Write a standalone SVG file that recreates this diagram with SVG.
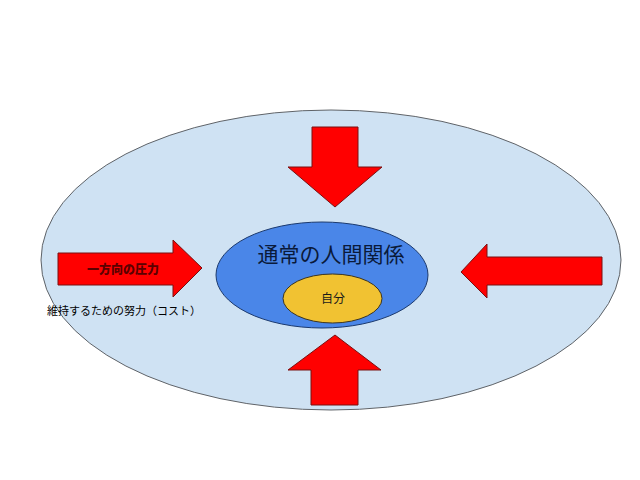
<svg xmlns="http://www.w3.org/2000/svg" width="640" height="480" viewBox="0 0 640 480">
<style>
.arrow{fill:#ff0000;stroke:#7a1010;stroke-width:1}
.jp{font-family:"Noto Sans CJK JP","Noto Sans",sans-serif}
</style>
<rect width="640" height="480" fill="#ffffff"/>
<g id="outer">
<ellipse cx="331" cy="260" rx="290" ry="150" fill="#cfe2f3" stroke="#5f6368" stroke-width="1"/>
<text class="jp" x="47" y="315" font-size="11" fill="#000">維持するための努力（コスト）</text>
</g>
<g id="connectors">
<polygon id="arrow-top" class="arrow" points="312,127 358,127 358,167 382,167 335,207 288,167 312,167"/>
<polygon id="arrow-bottom" class="arrow" points="335,335 381,370 358,370 358,405 311,405 311,370 288,370"/>
<polygon id="arrow-right" class="arrow" points="461,272 487,244 487,257 602,257 602,285 487,285 487,298"/>
<polygon id="arrow-left" class="arrow" points="58,253 173,253 173,240 202,268 173,297 173,285 58,285"/>
</g>
<g id="pressure-label">
<text class="jp" x="123" y="274" font-size="12" font-weight="900" fill="#5a0000" text-anchor="middle">一方向の圧力</text>
</g>
<g id="relations">
<ellipse cx="322" cy="275" rx="106" ry="53" fill="#4a86e8" stroke="#1c3a6e" stroke-width="1"/>
<text class="jp" x="331" y="262" font-size="21" fill="#0a1a3a" text-anchor="middle">通常の人間関係</text>
</g>
<g id="self">
<ellipse cx="332.5" cy="298.5" rx="49.5" ry="24.5" fill="#f1c232" stroke="#3a3320" stroke-width="1"/>
<text class="jp" x="333" y="303" font-size="12" fill="#1a1a1a" text-anchor="middle">自分</text>
</g>
</svg>
